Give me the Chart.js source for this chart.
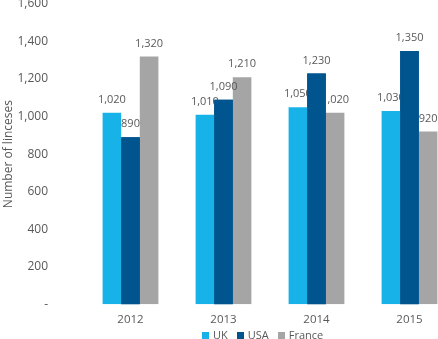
<!DOCTYPE html>
<html>
<head>
<meta charset="utf-8">
<script src="https://cdn.jsdelivr.net/npm/chart.js@4.4.1/dist/chart.umd.min.js"></script>
<style>
  html, body { margin: 0; padding: 0; overflow: hidden; background: #fff; }
  #wrap { position: relative; width: 456px; height: 339px; }
  #legend {
    position: absolute; left: 202px; top: 329px;
    display: flex; gap: 9px;
    font: 11px "Open Sans", sans-serif; color: #595959; line-height: 12px;
  }
  #legend span.item { display: flex; align-items: center; gap: 4px; }
  #legend i { display: inline-block; width: 7px; height: 7px; }
</style>
</head>
<body>
<div id="wrap">
  <canvas id="chart"></canvas>
  <div id="legend"></div>
</div>
<script>
// --- Data ---
const years = ['2012', '2013', '2014', '2015'];
const seriesNames = ['UK', 'USA', 'France'];
const ukValues = [1020, 1010, 1050, 1030];
const usaValues = [890, 1090, 1230, 1350];
const franceValues = [1320, 1210, 1020, 920];
const colors = ['#17b3e8', '#01558f', '#a5a5a5'];

const textGray = '#595959';
const fmt = v => v.toLocaleString('en-US');

// value labels, then the USA bars again on top so they cover neighbouring labels
const labelPlugin = {
    id: 'valueLabels',
    afterDatasetsDraw(chart) {
        const ctx = chart.ctx;
        ctx.save();
        ctx.font = '11px "Open Sans", sans-serif';
        ctx.fillStyle = textGray;
        ctx.textAlign = 'center';
        ctx.textBaseline = 'middle';
        chart.data.datasets.forEach((ds, i) => {
            const meta = chart.getDatasetMeta(i);
            meta.data.forEach((bar, j) => {
                ctx.fillText(fmt(ds.data[j]), bar.x, bar.y - 13);
            });
        });
        ctx.restore();
        chart.getDatasetMeta(1).controller.draw();
    }
};

new Chart(document.getElementById('chart'), {
    type: 'bar',
    data: {
        labels: years,
        datasets: [
            { label: seriesNames[0], data: ukValues, backgroundColor: colors[0] },
            { label: seriesNames[1], data: usaValues, backgroundColor: colors[1] },
            { label: seriesNames[2], data: franceValues, backgroundColor: colors[2] }
        ]
    },
    options: {
        responsive: true,
        maintainAspectRatio: false,
        animation: false,
        layout: { padding: { top: 4, bottom: 3, left: 0, right: 0 } },
        datasets: { bar: { categoryPercentage: 0.6, barPercentage: 1.0, borderWidth: 0 } },
        plugins: { legend: { display: false }, tooltip: { enabled: false } },
        scales: {
            x: {
                grid: { display: false, drawTicks: false },
                border: { display: false },
                ticks: { color: textGray, padding: 9, font: { family: 'Open Sans', size: 11.5 } }
            },
            y: {
                min: 0, max: 1600,
                grid: { display: false, drawTicks: false },
                border: { display: false },
                ticks: {
                    stepSize: 200, padding: 36, color: textGray,
                    font: { family: 'Open Sans', size: 12 },
                    callback: v => v === 0 ? '-' : fmt(v)
                },
                title: {
                    display: true, text: 'Number of linceses', color: textGray,
                    font: { family: 'Open Sans', size: 12 }, padding: { top: 1, bottom: 0 }
                },
                afterFit(scale) {
                    scale.width = 84;
                    scale.paddingTop = 0;
                    scale.paddingBottom = 0;
                }
            }
        }
    },
    plugins: [labelPlugin]
});

// --- Legend ---
const legend = document.getElementById('legend');
seriesNames.forEach((name, i) => {
    const item = document.createElement('span');
    item.className = 'item';
    item.innerHTML = `<i style="background:${colors[i]}"></i>${name}`;
    legend.appendChild(item);
});
</script>
</body>
</html>
